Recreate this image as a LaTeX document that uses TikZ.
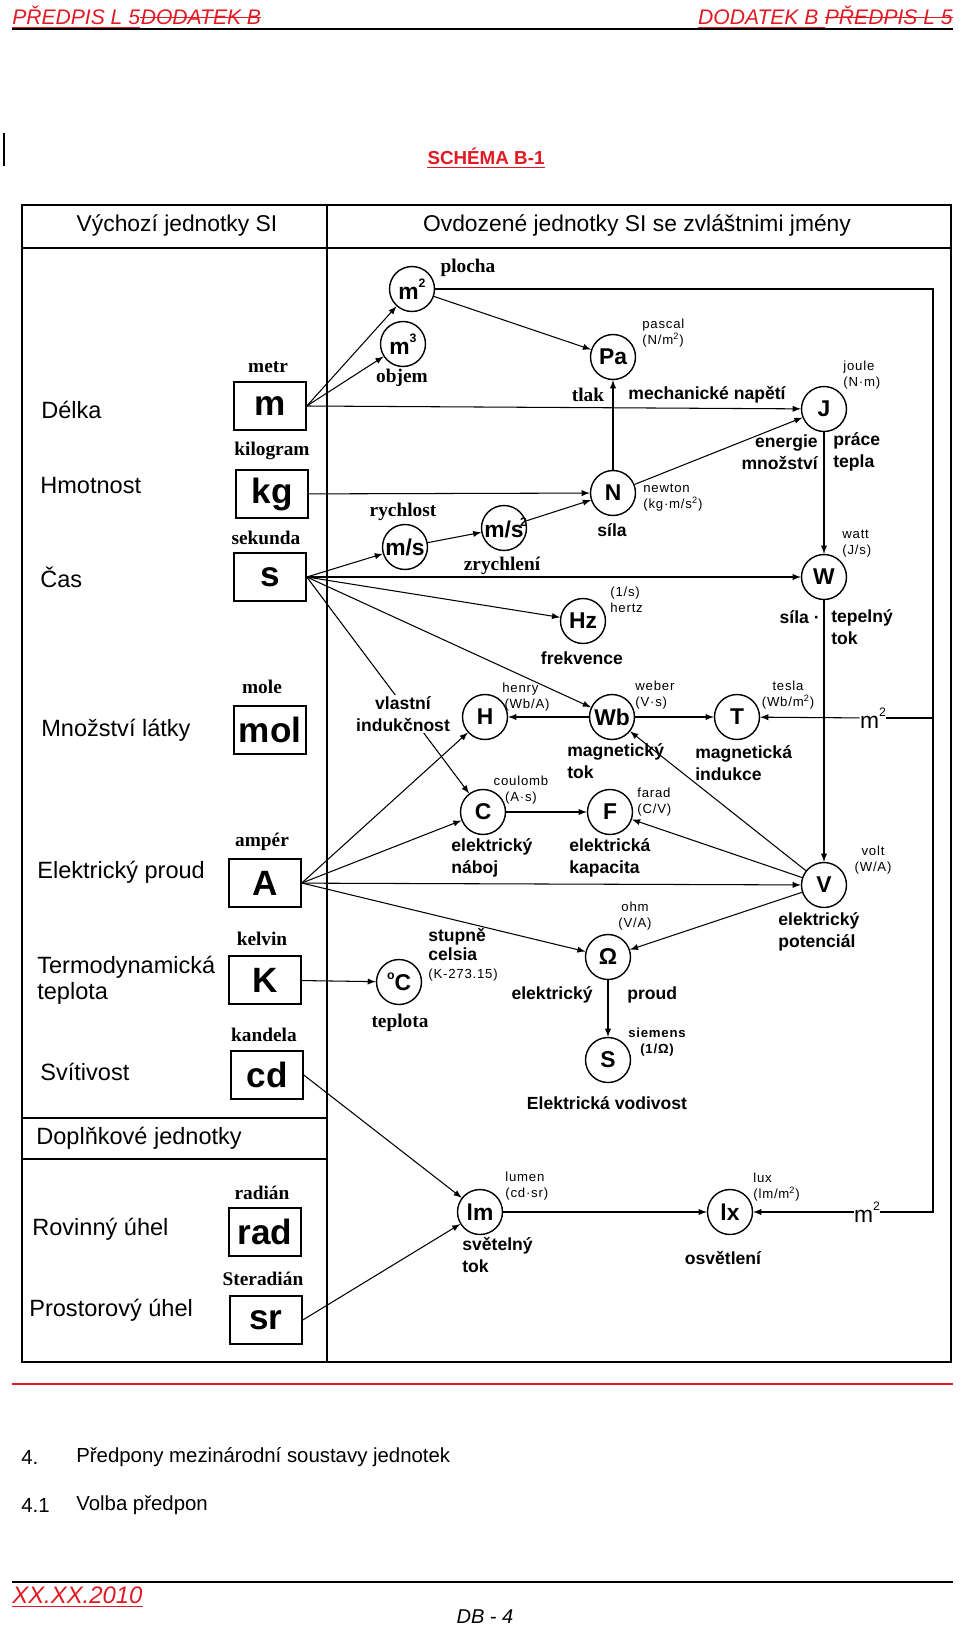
\documentclass[tikz,border=0pt]{standalone}
\usepackage{fontspec}
\setmainfont{Liberation Sans}
\newfontfamily\tms{Liberation Serif}
\newfontfamily\spc[LetterSpace=6]{Liberation Sans}
\definecolor{docred}{RGB}{225,25,35}
\newcommand{\sz}[1]{\fontsize{#1}{1.2\dimexpr#1pt\relax}\selectfont}
\newcommand{\pw}[1]{\raisebox{0.5em}{\sz{7}#1}}
\begin{document}
\begin{tikzpicture}[x=0.02cm,y=-0.02cm,>=latex,
    every node/.style={inner sep=0pt},
    si/.style={circle,draw,line width=0.8pt,minimum size=0.9cm,font=\sz{13}\bfseries},
    base/.style={draw,line width=0.9pt,minimum width=1.44cm,minimum height=0.96cm,font=\sz{20}\bfseries},
    qty/.style={anchor=west,align=left,font=\fontsize{13.4}{15}\selectfont},
    uname/.style={font=\sz{11}\tms\bfseries},
    info/.style={align=left,font=\fontsize{7.5}{9}\selectfont\spc},
    desc/.style={align=left,font=\fontsize{10}{12.5}\selectfont\bfseries},
    link/.style={->,line width=0.6pt},
    frame/.style={line width=0.9pt},
    redtext/.style={font=\sz{12}\itshape,text=docred},
    redline/.style={docred,line width=0.6pt}]
    \def\wx{933}
    \useasboundingbox (0,0) rectangle (960,1629);
    % page head
    \node[redtext,anchor=west] (headl1) at (12,15) {PŘEDPIS L 5};
    \node[redtext,anchor=base west] (headl2) at (headl1.base east) {DODATEK B};
    \node[redtext,anchor=east] (headr2) at (953,15) {PŘEDPIS L 5};
    \node[redtext,anchor=base east] (headr1) at ([xshift=-3.3pt]headr2.base west) {DODATEK B};
    \draw[redline] ([yshift=-1.8pt]headl1.base west) -- ([yshift=-1.8pt]headl1.base east);
    \draw[redline] ([yshift=3.7pt]headl2.base west) -- ([yshift=3.7pt]headl2.base east);
    \draw[redline] ([yshift=-1.8pt]headr1.base west) -- ([yshift=-1.8pt]headr2.base west);
    \draw[redline] ([yshift=3.7pt]headr2.base west) -- ([yshift=3.7pt]headr2.base east);
    \draw[line width=1pt] (12,29) -- (953,29);
    \draw[line width=1.3pt] (4,133) -- (4,166);
    \node[font=\sz{10.7}\bfseries,text=docred] (title) at (486,156) {SCHÉMA B-1};
    \draw[redline] ([yshift=-1.8pt]title.base west) -- ([yshift=-1.8pt]title.base east);
    % table
    \draw[frame] (22,205) rectangle (951,1362);
    \draw[frame] (22,248) -- (951,248);
    \draw[frame] (327,205) -- (327,1362);
    \draw[frame] (22,1118) -- (327,1118) (22,1159) -- (327,1159);
    \node[font=\sz{13}] (hleft) at (177,225) {Výchozí jednotky SI};
    \node[font=\sz{13}] (hright) at (637,225) {Ovdozené jednotky SI se zvláštnimi jmény};
    \node[qty] (qdelka) at (41,410) {Délka};
    \node[qty] (qhmot) at (40,486) {Hmotnost};
    \node[qty] (qcas) at (40,577) {Čas};
    \node[qty] (qmnoz) at (41,730) {Množství látky};
    \node[qty] (qproud) at (37,872) {Elektrický proud};
    \node[qty] (qtepl) at (37,980) {Termodynamická\\teplota};
    \node[qty] (qsvit) at (40,1072) {Svítivost};
    \node[qty] (qdopl) at (36,1138) {Doplňkové jednotky};
    \node[qty] (qrov) at (32,1229) {Rovinný úhel};
    \node[qty] (qpros) at (29,1310) {Prostorový úhel};
    % base units
    \node[base] (m) at (270,406) {m};
    \node[base] (kg) at (272,494) {kg};
    \node[base] (s) at (270,577) {s};
    \node[base] (mol) at (270,730) {mol};
    \node[base] (A) at (265,883) {A};
    \node[base] (K) at (265,980) {K};
    \node[base] (cd) at (267,1075) {cd};
    \node[base] (rad) at (265,1232) {rad};
    \node[base] (sr) at (266,1320) {sr};
    \node[uname] (nm) at (268,367) {metr};
    \node[uname] (nkg) at (272,451) {kilogram};
    \node[uname] (ns) at (266,538) {sekunda};
    \node[uname] (nmol) at (262,687) {mole};
    \node[uname] (nA) at (262,842) {ampér};
    \node[uname] (nK) at (262,939) {kelvin};
    \node[uname] (ncd) at (264,1035) {kandela};
    \node[uname] (nrad) at (262,1193) {radián};
    \node[uname] (nsr) at (263,1279) {Steradián};
    % derived units
    \node[si] (m2) at (412,289) {m\pw{2}};
    \node[si] (m3) at (403,344) {m\pw{3}};
    \node[si] (ms) at (405,547) {m/s};
    \node[si] (mss) at (504,528) {m/s\rlap{\kern-2pt\pw{2}}};
    \node[si] (Pa) at (613,357) {Pa};
    \node[si] (J) at (824,409) {J};
    \node[si] (N) at (613,493) {N};
    \node[si] (W) at (824,577) {W};
    \node[si] (Hz) at (583,621) {Hz};
    \node[si] (H) at (485,717) {H};
    \node[si] (Wb) at (612,717) {Wb};
    \node[si] (T) at (737,717) {T};
    \node[si] (C) at (483,812) {C};
    \node[si] (F) at (610,812) {F};
    \node[si] (V) at (824,885) {V};
    \node[si] (Om) at (608,957) {Ω};
    \node[si] (degC) at (399,982) {\pw{o}C};
    \node[si] (S) at (608,1060) {S};
    \node[si] (lm) at (480,1212) {lm};
    \node[si] (lx) at (730,1212) {lx};
    \node[font=\sz{13}] (mT) at (873,718) {m\pw{2}};
    \node[font=\sz{13}] (mlx) at (867,1212) {m\pw{2}};
    \coordinate (wtop) at (\wx,289);
    % connectors
    \draw[link] (m.east) -- (m2);
    \draw[link] (m.east) -- (m3);
    \draw[link] (m.east) -- (J);
    \draw[link] (m2) -- (Pa);
    \draw[line width=0.6pt] (m2.east) -- (wtop) -- (wtop |- mlx) -- (mlx.east);
    \draw[line width=0.6pt] (wtop |- mT) -- (mT.east);
    \draw[link] (mT) -- (T);
    \draw[link] (mlx) -- (lx);
    \draw[link] (kg) -- (N);
    \draw[link] (N) -- (Pa);
    \draw[link] (N) -- (J);
    \draw[link] (s.east) -- (ms);
    \draw[link] (ms) -- (mss);
    \draw[link] (mss) -- (N);
    \draw[link] (s) -- (W);
    \draw[link] (s.east) -- (Hz);
    \draw[link] (s.east) -- (Wb);
    \draw[link] (s.east) -- (C);
    \draw[link] (J) -- (W);
    \draw[link] (W) -- (V);
    \draw[link] (Wb) -- (H);
    \draw[link] (Wb) -- (T);
    \draw[link] (V) -- (Wb);
    \draw[link] (C) -- (F);
    \draw[link] (V) -- (F);
    \draw[link] (A.east) -- (H);
    \draw[link] (A.east) -- (C);
    \draw[link] (A) -- (V);
    \draw[link] (A.east) -- (Om);
    \draw[link] (V) -- (Om);
    \draw[link] (Om) -- (S);
    \draw[link] (K) -- (degC);
    \draw[link] (cd.east) -- (lm);
    \draw[link] (sr.east) -- (lm);
    \draw[link] (lm) -- (lx);
    % unit names
    \node[info,anchor=west] (ipa) at (642,333) {pascal\\(N/m\textsuperscript{2})};
    \node[info,anchor=west] (ij) at (843,375) {joule\\(N·m)};
    \node[info,anchor=west] (in) at (643,498) {newton\\(kg·m/s\textsuperscript{2})};
    \node[info,anchor=west] (iw) at (842,544) {watt\\(J/s)};
    \node[info,anchor=west] (ihz) at (610,600) {(1/s)\\hertz};
    \node[info,anchor=west] (ih) at (502,697) {henry\\\,(Wb/A)};
    \node[info,anchor=west] (iwb) at (635,695) {weber\\(V·s)};
    \node[info,align=center] (it) at (788,695) {tesla\\(Wb/m\textsuperscript{2})};
    \node[info,align=center] (ic) at (521,790) {coulomb\\(A·s)};
    \node[info,anchor=west] (if) at (637,802) {farad\\(C/V)};
    \node[info,align=center] (iv) at (873,860) {volt\\(W/A)};
    \node[info,align=center] (iom) at (635,916) {ohm\\(V/A)};
    \node[info,align=center,font=\fontsize{7.5}{9.5}\selectfont\spc\bfseries] (is) at (657,1042) {siemens\\(1/Ω)};
    \node[info,anchor=west] (ilm) at (505,1186) {lumen\\(cd·sr)};
    \node[info,anchor=west] (ilx) at (753,1187) {lux\\(lm/m\textsuperscript{2})};
    \node[desc,anchor=west,font=\fontsize{10}{10.5}\selectfont\bfseries] (icel) at (428,955) {stupně\\celsia\\{\spc\mdseries\sz{7.5}(K-273.15)}};
    % quantity names
    \node[uname] (dplocha) at (468,268) {plocha};
    \node[uname] (dobjem) at (402,378) {objem};
    \node[uname] (drych) at (403,512) {rychlost};
    \node[uname] (dzrych) at (502,566) {zrychlení};
    \node[uname] (dtepl) at (400,1023) {teplota};
    \node[uname] (dtlak) at (588,395) {tlak};
    \node[desc] (dnap) at (707,395) {mechanické napětí};
    \node[desc,anchor=east,align=right] (dener) at (818,452) {energie\\množství};
    \node[desc,anchor=west] (dprace) at (833,452) {práce\\tepla};
    \node[desc] (dsila) at (612,530) {síla};
    \node[desc,anchor=east] (dsilaw) at (820,617) {síla ·};
    \node[desc,anchor=west] (dtok) at (831,627) {tepelný\\tok};
    \node[desc] (dfrek) at (582,658) {frekvence};
    \node[desc,align=center,fill=white,inner sep=1pt] (dind) at (403,714) {vlastní\\indukčnost};
    \node[desc,anchor=west] (dmagtok) at (567,761) {magnetický\\tok};
    \node[desc,anchor=west] (dmagind) at (695,763) {magnetická\\indukce};
    \node[desc,anchor=west] (dnaboj) at (451,858) {elektrický\\náboj};
    \node[desc,anchor=west] (dkap) at (569,858) {elektrická\\kapacita};
    \node[desc,anchor=west] (dpot) at (778,932) {elektrický\\potenciál};
    \node[desc,anchor=east] (dproud1) at (593,995) {elektrický};
    \node[desc,anchor=west] (dproud2) at (627,995) {proud};
    \node[desc] (dvod) at (607,1103) {Elektrická vodivost};
    \node[desc,anchor=west] (dsvet) at (462,1255) {světelný\\tok};
    \node[desc] (dosv) at (723,1258) {osvětlení};
    % page foot
    \draw[docred,line width=1.3pt] (12,1384) -- (953,1384);
    \node[anchor=west,font=\sz{11.6}] (sec4) at (21,1457) {4.};
    \node[anchor=west,font=\sz{11.6}] (sec4t) at (76,1457) {Předpony mezinárodní soustavy jednotek};
    \node[anchor=west,font=\sz{11.6}] (sec41) at (21,1505) {4.1};
    \node[anchor=west,font=\sz{11.6}] (sec41t) at (76,1505) {Volba předpon};
    \draw[line width=1pt] (12,1582) -- (953,1582);
    \node[anchor=west,font=\sz{13.6}\itshape,text=docred] (date) at (12,1595) {XX.XX.2010};
    \draw[redline] ([yshift=-1.8pt]date.base west) -- ([yshift=-1.8pt]date.base east);
    \node[font=\sz{11.4}\itshape] (page) at (485,1617) {DB - 4};
\end{tikzpicture}
\end{document}
